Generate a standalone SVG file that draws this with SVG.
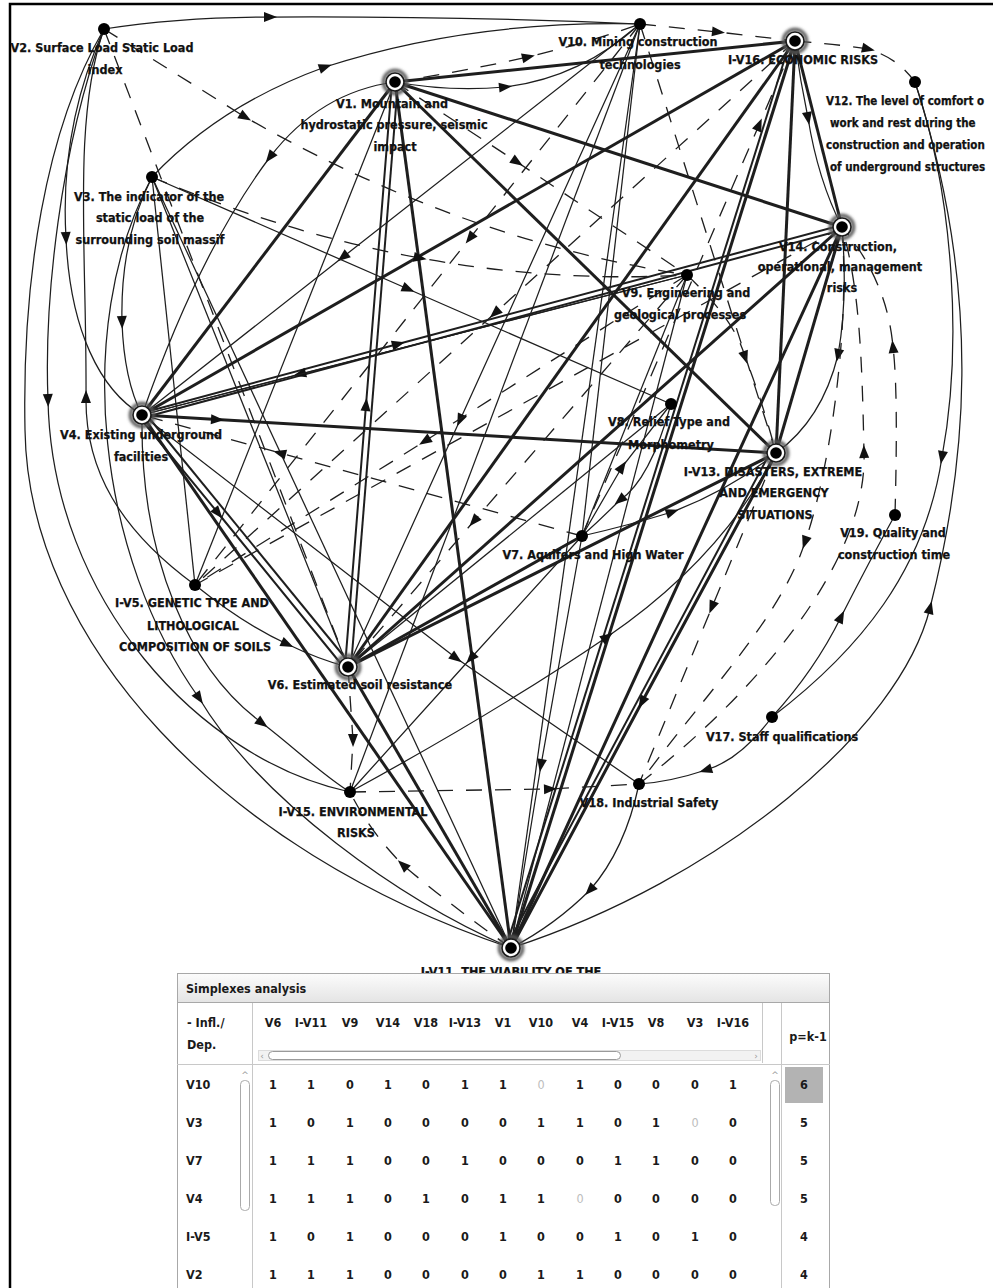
<svg xmlns="http://www.w3.org/2000/svg" width="993" height="1288" viewBox="0 0 993 1288">
<defs>
<style>
.tk{fill:none;stroke:#1e1e1e;stroke-width:3}
.t2{fill:none;stroke:#1e1e1e;stroke-width:2}
.tn{fill:none;stroke:#1e1e1e;stroke-width:1.25}
.ds{fill:none;stroke:#1e1e1e;stroke-width:1.3;stroke-dasharray:16 13}
.ar{marker-mid:url(#arr)}
.lbl{font-family:"DejaVu Sans Condensed","DejaVu Sans",sans-serif;font-stretch:condensed;font-weight:bold;font-size:12.5px;fill:#111;stroke:#111;stroke-width:0.25;text-anchor:middle}
.lbs{font-family:"DejaVu Sans Condensed","DejaVu Sans",sans-serif;font-stretch:condensed;font-weight:bold;font-size:11.5px;fill:#111;stroke:#111;stroke-width:0.25;text-anchor:start}
.tb{font-family:"DejaVu Sans Condensed","DejaVu Sans",sans-serif;font-stretch:condensed;font-weight:bold;font-size:12.5px;fill:#1a1a1a}
.v{font-family:"DejaVu Sans Condensed","DejaVu Sans",sans-serif;font-stretch:condensed;font-weight:bold;font-size:12.5px;fill:#1a1a1a;text-anchor:middle}
.g{fill:#bdbdbd;font-weight:normal}
.sd{fill:#000}
.ln{stroke:#c8c8c8;stroke-width:1;fill:none}
</style>
<marker id="arr" markerUnits="userSpaceOnUse" markerWidth="16" markerHeight="12" viewBox="-8 -6 16 12" refX="0" refY="0" orient="auto"><path d="M-6,-5 L7,0 L-6,5 z" fill="#111"/></marker>
<filter id="glow" x="-60%" y="-60%" width="220%" height="220%"><feGaussianBlur stdDeviation="1.6"/></filter>
<linearGradient id="hdr" x1="0" y1="0" x2="0" y2="1"><stop offset="0" stop-color="#fcfcfc"/><stop offset="1" stop-color="#e4e4e4"/></linearGradient>
<g id="big"><circle r="11.5" fill="none" stroke="#555" stroke-width="3.5" filter="url(#glow)"/><circle r="9" fill="#fff" stroke="#1a1a1a" stroke-width="1.6"/><circle r="5.8" fill="#000"/></g>
</defs>
<rect width="993" height="1288" fill="#fff"/>
<path d="M10,1288 L10,4 L993,4" stroke="#000" stroke-width="2.5" fill="none"/>

<g id="connectors">
<path class="tk" d="M395,82 L795,41"/>
<path class="tk" d="M395,82 L842,227"/>
<path class="tk" d="M395,82 L776,453"/>
<path class="tk" d="M395,82 L142,415"/>
<path class="t2 ar" d="M345,667 L366,405 L392,82"/>
<path class="t2" d="M398,82 L351,667"/>
<path class="tk" d="M395,82 L511,948"/>
<path class="tk" d="M795,41 L142,415"/>
<path class="tk" d="M795,41 L348,667"/>
<path class="tk" d="M795,41 L511,948"/>
<path class="t2" d="M790,42 L506,947"/>
<path class="tk" d="M795,41 L842,227"/>
<path class="tk" d="M795,41 L776,453"/>
<path class="t2 ar" d="M142,413 L398,344 L842,225"/>
<path class="t2" d="M142,418 L842,230"/>
<path class="tk" d="M842,227 L348,667"/>
<path class="tk" d="M842,227 L511,948"/>
<path class="tk" d="M842,227 L776,453"/>
<path class="tk ar" d="M142,415 L217,419.5 L776,453"/>
<path class="tk" d="M142,415 L511,948"/>
<path class="t2 ar" d="M140,418 L218,513 L346,670"/>
<path class="t2" d="M145,413 L351,665"/>
<path class="tk" d="M348,667 L776,453"/>
<path class="tk" d="M348,667 L511,948"/>
<path class="tk" d="M348,667 L582,536"/>
<path class="tk ar" d="M776,453 L642,702 L511,948"/>
<path class="t2" d="M771,451 L506,947"/>
<path class="tn ar" d="M104,29 Q180,17 270,17 Q460,16 640,24"/>
<path class="tn ar" d="M152,177 Q220,105 325,67 Q470,20 640,24"/>
<path class="tn ar" d="M395,82 Q450,92 505,87 Q580,78 640,24"/>
<path class="tn ar" d="M395,82 Q320,92 270,157 Q200,250 142,415"/>
<path class="tn ar" d="M640,24 L343,257 L142,415"/>
<path class="tn ar" d="M640,24 L460,420 L348,667"/>
<path class="tn" d="M640,24 L511,948"/>
<path class="tn" d="M640,24 L582,536"/>
<path class="tn" d="M640,24 L350,792"/>
<path class="tn ar" d="M582,536 L541,765 L511,948"/>
<path class="tn ar" d="M582,536 L471,658 L350,792"/>
<path class="tn ar" d="M152,177 L408,289 L671,404"/>
<path class="tn ar" d="M152,177 Q120,240 122,322 Q124,380 142,415"/>
<path class="tn" d="M152,177 L195,585"/>
<path class="tn" d="M152,177 L348,667"/>
<path class="tn" d="M152,177 L511,948"/>
<path class="tn ar" d="M152,177 C70,330 100,560 199,698 C260,800 400,900 511,948"/>
<path class="tn" d="M104,29 C45,130 22,280 25,430 C28,640 220,850 511,948"/>
<path class="tn ar" d="M104,29 C60,150 44,300 48,400 C52,600 200,760 350,792"/>
<path class="tn ar" d="M195,585 C120,530 85,470 86,397 C87,250 72,120 104,29"/>
<path class="tn ar" d="M104,29 C72,100 62,170 66,238 C70,330 100,390 142,415"/>
<path class="tn ar" d="M142,415 C140,560 190,670 262,723 C295,748 322,775 350,792"/>
<path class="tn ar" d="M195,585 Q245,625 287,644 Q320,660 348,667"/>
<path class="tn ar" d="M142,415 L456,658 L639,784"/>
<path class="tn ar" d="M350,792 Q500,710 607,637 Q720,560 776,453"/>
<path class="tn ar" d="M772,717 Q740,760 706,770 Q670,782 639,784"/>
<path class="tn ar" d="M772,717 Q815,670 841,617 Q870,560 895,515"/>
<path class="tn ar" d="M915,82 C955,200 962,350 942,457 C925,570 860,650 772,717"/>
<path class="tn ar" d="M511,948 C720,880 900,730 930,608 C965,470 985,300 915,82"/>
<path class="tn ar" d="M842,227 Q848,300 838,355 Q822,420 776,453"/>
<path class="tn ar" d="M795,41 Q800,80 808,118 Q818,180 842,227"/>
<path class="tn ar" d="M687,275 L300,374 L142,415"/>
<path class="tn" d="M687,275 L582,536"/>
<path class="tn" d="M687,275 L511,948"/>
<path class="tn ar" d="M582,536 L622,467 L671,404"/>
<path class="tn ar" d="M671,404 Q650,480 620,500 Q600,520 582,536"/>
<path class="tn" d="M671,404 L348,667"/>
<path class="tn ar" d="M582,536 Q630,525 672,512 Q730,490 776,453"/>
<path class="tn" d="M142,415 L687,275"/>
<path class="tn" d="M195,585 L395,82"/>
<path class="tn ar" d="M639,784 Q625,850 590,890 Q555,925 511,948"/>
<path class="ds ar" d="M640,24 L718,32 L795,41"/>
<path class="ds ar" d="M795,41 Q835,44 868,49 Q898,58 915,82"/>
<path class="ds ar" d="M395,82 Q460,72 528,57 Q590,42 640,24"/>
<path class="ds ar" d="M104,29 Q170,70 245,117 Q460,240 687,275"/>
<path class="ds" d="M104,29 L348,667"/>
<path class="ds ar" d="M152,177 Q286,233.5 419.75,258 Q553.5,282.5 687,275"/>
<path class="ds ar" d="M795,41 L495,313 L195,585"/>
<path class="ds" d="M842,227 L195,585"/>
<path class="ds ar" d="M687,275 L425,441 L195,585"/>
<path class="ds ar" d="M687,275 L474,521 L348,667"/>
<path class="ds ar" d="M395,82 L517,162 L687,275"/>
<path class="ds ar" d="M640,24 L470,238 L195,585"/>
<path class="ds ar" d="M582,536 L280,453 L142,415"/>
<path class="ds ar" d="M348,667 L353,740 L350,792"/>
<path class="ds ar" d="M350,792 L550,789 L639,784"/>
<path class="ds ar" d="M511,948 Q450,905 403,865 Q370,832 350,792"/>
<path class="ds ar" d="M842,227 C850,330 830,470 805,542 C780,620 700,700 639,784"/>
<path class="ds ar" d="M639,784 C760,690 868,560 864,452 C862,360 860,290 842,227"/>
<path class="ds ar" d="M895,515 C897,440 897,380 893,347 C889,300 870,260 842,227"/>
<path class="ds ar" d="M687,275 Q735,320 745,357 Q762,400 776,453"/>
<path class="ds ar" d="M582,536 L759,125 L795,41"/>
<path class="ds" d="M640,24 L776,453"/>
<path class="ds ar" d="M776,453 L712,607 L639,784"/>
</g>

<g id="node-V2"><circle class="sd" cx="104" cy="29" r="6"/><text class="lbl" x="102" y="52">V2. Surface Load Static Load</text><text class="lbl" x="105" y="74">index</text></g>
<g id="node-V10"><circle class="sd" cx="640" cy="24" r="6"/><text class="lbl" x="638" y="46">V10. Mining construction</text><text class="lbl" x="640" y="69">technologies</text></g>
<g id="node-I-V16"><use href="#big" x="795" y="41"/><text class="lbl" x="803" y="64">I-V16. ECONOMIC RISKS</text></g>
<g id="node-V1"><use href="#big" x="395" y="82"/><text class="lbl" x="392" y="108">V1. Mountain and</text><text class="lbl" x="394" y="129">hydrostatic pressure, seismic</text><text class="lbl" x="395" y="151">impact</text></g>
<g id="node-V12"><circle class="sd" cx="915" cy="82" r="6"/><text class="lbs" x="826" y="105">V12. The level of comfort o</text><text class="lbs" x="830" y="127">work and rest during the</text><text class="lbs" x="826" y="149">construction and operation</text><text class="lbs" x="830" y="171">of underground structures</text></g>
<g id="node-V3"><circle class="sd" cx="152" cy="177" r="6"/><text class="lbl" x="149" y="201">V3. The indicator of the</text><text class="lbl" x="150" y="222">static load of the</text><text class="lbl" x="150" y="244">surrounding soil massif</text></g>
<g id="node-V14"><use href="#big" x="842" y="227"/><text class="lbl" x="838" y="251">V14. Construction,</text><text class="lbl" x="840" y="271">operational, management</text><text class="lbl" x="842" y="292">risks</text></g>
<g id="node-V9"><circle class="sd" cx="687" cy="275" r="6"/><text class="lbl" x="686" y="297">V9. Engineering and</text><text class="lbl" x="680" y="319">geological processes</text></g>
<g id="node-V4"><use href="#big" x="142" y="415"/><text class="lbl" x="141" y="439">V4. Existing underground</text><text class="lbl" x="141" y="461">facilities</text></g>
<g id="node-V8"><circle class="sd" cx="671" cy="404" r="6"/><text class="lbl" x="669" y="426">V8. Relief Type and</text><text class="lbl" x="671" y="449">Morphometry</text></g>
<g id="node-I-V13"><use href="#big" x="776" y="453"/><text class="lbl" x="773" y="476">I-V13. DISASTERS, EXTREME</text><text class="lbl" x="774" y="497">AND EMERGENCY</text><text class="lbl" x="775" y="519">SITUATIONS</text></g>
<g id="node-V19"><circle class="sd" cx="895" cy="515" r="6"/><text class="lbl" x="893" y="537">V19. Quality and</text><text class="lbl" x="894" y="559">construction time</text></g>
<g id="node-V7"><circle class="sd" cx="582" cy="536" r="6"/><text class="lbl" x="593" y="559">V7. Aquifers and High Water</text></g>
<g id="node-I-V5"><circle class="sd" cx="195" cy="585" r="6"/><text class="lbl" x="192" y="607">I-V5. GENETIC TYPE AND</text><text class="lbl" x="193" y="630">LITHOLOGICAL</text><text class="lbl" x="195" y="651">COMPOSITION OF SOILS</text></g>
<g id="node-V6"><use href="#big" x="348" y="667"/><text class="lbl" x="360" y="689">V6. Estimated soil resistance</text></g>
<g id="node-V17"><circle class="sd" cx="772" cy="717" r="6"/><text class="lbl" x="782" y="741">V17. Staff qualifications</text></g>
<g id="node-V18"><circle class="sd" cx="639" cy="784" r="6"/><text class="lbl" x="649" y="807">V18. Industrial Safety</text></g>
<g id="node-I-V15"><circle class="sd" cx="350" cy="792" r="6"/><text class="lbl" x="353" y="816">I-V15. ENVIRONMENTAL</text><text class="lbl" x="356" y="837">RISKS</text></g>
<g id="node-I-V11"><use href="#big" x="511" y="948"/><text class="lbl" x="511" y="976">I-V11. THE VIABILITY OF THE</text></g>

<g id="table">
<rect x="177.5" y="973.5" width="652" height="330" fill="#fff" stroke="#a8a8a8"/>
<rect x="177.5" y="973.5" width="652" height="29" fill="url(#hdr)" stroke="#a8a8a8"/>
<text class="tb" x="186" y="993">Simplexes analysis</text>
<path class="ln" d="M252.5,1003 V1288 M781.5,1003 V1288 M762.5,1003 V1063 M177,1064.5 H830"/>
<text class="tb" x="187" y="1027">-  Infl./</text>
<text class="tb" x="187" y="1049">Dep.</text>
<text class="tb" x="808" y="1041" text-anchor="middle">p=k-1</text>
<g class="v">
<text x="273" y="1027">V6</text><text x="311" y="1027">I-V11</text><text x="350" y="1027">V9</text><text x="388" y="1027">V14</text><text x="426" y="1027">V18</text><text x="465" y="1027">I-V13</text><text x="503" y="1027">V1</text><text x="541" y="1027">V10</text><text x="580" y="1027">V4</text><text x="618" y="1027">I-V15</text><text x="656" y="1027">V8</text><text x="695" y="1027">V3</text><text x="733" y="1027">I-V16</text>
</g>
<rect x="258.5" y="1050.5" width="502" height="10" fill="#f2f2f2" stroke="#dcdcdc"/>
<rect x="268.5" y="1051.5" width="352" height="8" rx="4" fill="#fff" stroke="#9a9a9a"/>
<text x="262" y="1059" font-family="DejaVu Sans" font-size="9" fill="#999" text-anchor="middle">‹</text>
<text x="756" y="1059" font-family="DejaVu Sans" font-size="9" fill="#999" text-anchor="middle">›</text>
<text x="245" y="1078" font-family="DejaVu Sans" font-size="9" fill="#999" text-anchor="middle">^</text>
<rect x="240.5" y="1080.5" width="9" height="130" rx="4" fill="#fff" stroke="#aaa"/>
<text x="775" y="1078" font-family="DejaVu Sans" font-size="9" fill="#999" text-anchor="middle">^</text>
<rect x="770.5" y="1080.5" width="9" height="125" rx="4" fill="#fff" stroke="#aaa"/>
<rect x="785" y="1067" width="38" height="36" fill="#b3b3b3"/>
<g class="tb">
<text x="186" y="1089">V10</text><text x="186" y="1127">V3</text><text x="186" y="1165">V7</text><text x="186" y="1203">V4</text><text x="186" y="1241">I-V5</text><text x="186" y="1279">V2</text>
</g>
<g class="v">
<text x="804" y="1089">6</text><text x="804" y="1127">5</text><text x="804" y="1165">5</text><text x="804" y="1203">5</text><text x="804" y="1241">4</text><text x="804" y="1279">4</text>
<text x="273" y="1089">1</text><text x="311" y="1089">1</text><text x="350" y="1089">0</text><text x="388" y="1089">1</text><text x="426" y="1089">0</text><text x="465" y="1089">1</text><text x="503" y="1089">1</text><text class="g" x="541" y="1089">0</text><text x="580" y="1089">1</text><text x="618" y="1089">0</text><text x="656" y="1089">0</text><text x="695" y="1089">0</text><text x="733" y="1089">1</text>
<text x="273" y="1127">1</text><text x="311" y="1127">0</text><text x="350" y="1127">1</text><text x="388" y="1127">0</text><text x="426" y="1127">0</text><text x="465" y="1127">0</text><text x="503" y="1127">0</text><text x="541" y="1127">1</text><text x="580" y="1127">1</text><text x="618" y="1127">0</text><text x="656" y="1127">1</text><text class="g" x="695" y="1127">0</text><text x="733" y="1127">0</text>
<text x="273" y="1165">1</text><text x="311" y="1165">1</text><text x="350" y="1165">1</text><text x="388" y="1165">0</text><text x="426" y="1165">0</text><text x="465" y="1165">1</text><text x="503" y="1165">0</text><text x="541" y="1165">0</text><text x="580" y="1165">0</text><text x="618" y="1165">1</text><text x="656" y="1165">1</text><text x="695" y="1165">0</text><text x="733" y="1165">0</text>
<text x="273" y="1203">1</text><text x="311" y="1203">1</text><text x="350" y="1203">1</text><text x="388" y="1203">0</text><text x="426" y="1203">1</text><text x="465" y="1203">0</text><text x="503" y="1203">1</text><text x="541" y="1203">1</text><text class="g" x="580" y="1203">0</text><text x="618" y="1203">0</text><text x="656" y="1203">0</text><text x="695" y="1203">0</text><text x="733" y="1203">0</text>
<text x="273" y="1241">1</text><text x="311" y="1241">0</text><text x="350" y="1241">1</text><text x="388" y="1241">0</text><text x="426" y="1241">0</text><text x="465" y="1241">0</text><text x="503" y="1241">1</text><text x="541" y="1241">0</text><text x="580" y="1241">0</text><text x="618" y="1241">1</text><text x="656" y="1241">0</text><text x="695" y="1241">1</text><text x="733" y="1241">0</text>
<text x="273" y="1279">1</text><text x="311" y="1279">1</text><text x="350" y="1279">1</text><text x="388" y="1279">0</text><text x="426" y="1279">0</text><text x="465" y="1279">0</text><text x="503" y="1279">0</text><text x="541" y="1279">1</text><text x="580" y="1279">1</text><text x="618" y="1279">0</text><text x="656" y="1279">0</text><text x="695" y="1279">0</text><text x="733" y="1279">0</text>
</g>
</g>
</svg>
